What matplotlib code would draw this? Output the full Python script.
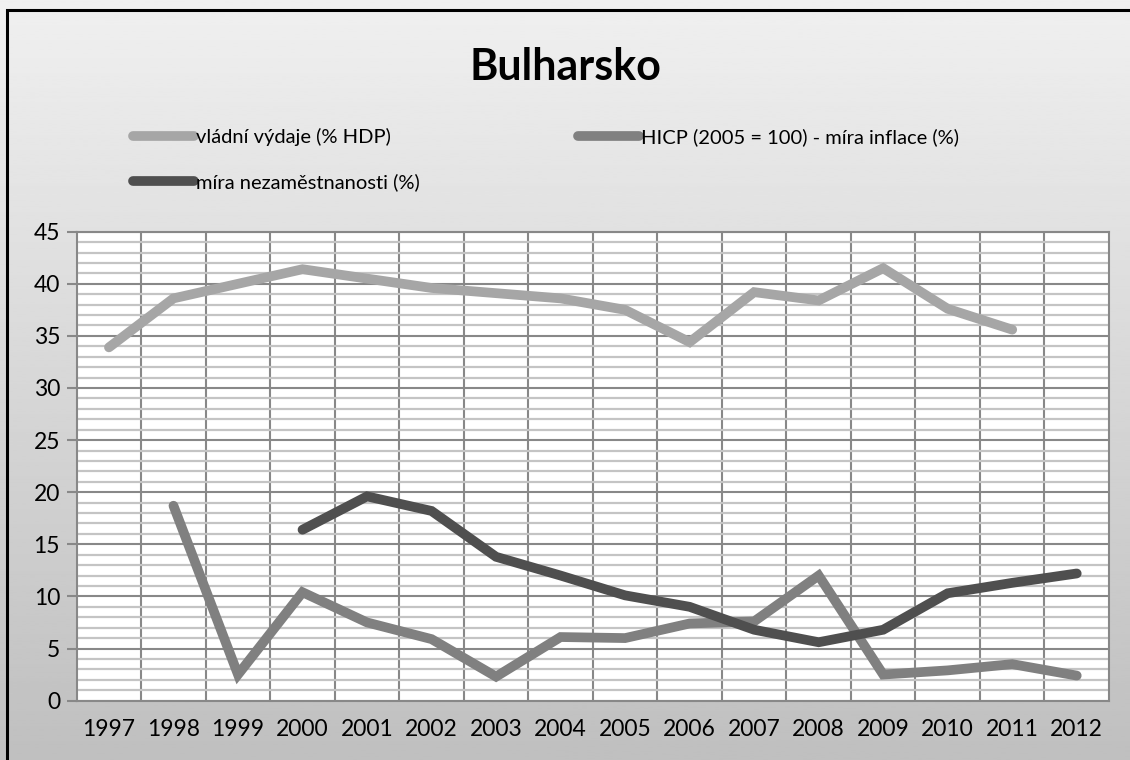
import matplotlib.pyplot as plt
import numpy as np
from matplotlib.ticker import MultipleLocator, FixedLocator
from matplotlib.patches import Rectangle

plt.rcParams['font.family'] = ['Lato', 'DejaVu Sans']

years = [str(y) for y in range(1997, 2013)]
nan = np.nan
vydaje = [33.9, 38.6, 40.0, 41.4, 40.5, 39.6, 39.1, 38.6, 37.5, 34.4,
          39.2, 38.4, 41.5, 37.6, 35.6, nan]
hicp = [nan, 18.7, 2.5, 10.4, 7.5, 5.9, 2.3, 6.1, 6.0, 7.4,
        7.6, 12.0, 2.5, 2.9, 3.5, 2.4]
nezam = [nan, nan, nan, 16.4, 19.6, 18.2, 13.8, 12.0, 10.1, 9.0,
         6.8, 5.6, 6.8, 10.3, 11.3, 12.2]

fig = plt.figure(figsize=(11.3, 7.6), dpi=100)

# gradient background + frame
bg = fig.add_axes([0, 0, 1, 1], zorder=-10)
grad = np.linspace(0.94, 0.75, 256).reshape(-1, 1)
bg.imshow(grad, cmap='gray', vmin=0, vmax=1, aspect='auto', extent=[0, 1, 0, 1])
bg.set_xlim(0, 1)
bg.set_ylim(0, 1)
bg.axis('off')
bg.add_patch(Rectangle((7 / 1130, -0.05), 1.1, (750 / 760) + 0.05, fill=False,
                       edgecolor='black', linewidth=2.2, transform=bg.transAxes))

ax = fig.add_axes([76.7 / 1130, 59.4 / 760, (1109 - 76.7) / 1130, (700.6 - 231.7) / 760])
ax.set_facecolor('white')

x = np.arange(len(years))
ax.plot(x, vydaje, color='#a6a6a6', lw=7, solid_capstyle='round', solid_joinstyle='miter',
        label='vládní výdaje (% HDP)', zorder=3)
ax.plot(x, hicp, color='#808080', lw=7, solid_capstyle='round', solid_joinstyle='miter',
        label='HICP (2005 = 100) - míra inflace (%)', zorder=3)
ax.plot(x, nezam, color='#4f4f4f', lw=7, solid_capstyle='round', solid_joinstyle='miter',
        label='míra nezaměstnanosti (%)', zorder=3)

ax.set_xlim(-0.5, len(years) - 0.5)
ax.set_ylim(0, 45)
ax.set_xticks(x)
ax.set_xticklabels(years)
ax.xaxis.set_minor_locator(FixedLocator(np.arange(0.5, len(years) - 0.5, 1)))
ax.yaxis.set_major_locator(MultipleLocator(5))
ax.yaxis.set_minor_locator(MultipleLocator(1))

ax.yaxis.grid(True, which='minor', color='#c4c4c4', lw=1.6, zorder=0)
ax.yaxis.grid(True, which='major', color='#888888', lw=1.5, zorder=1)
ax.xaxis.grid(True, which='minor', color='#888888', lw=1.5, zorder=1)
ax.set_axisbelow(True)

ax.tick_params(axis='x', which='both', length=0, labelsize=16.5, pad=13)
ax.tick_params(axis='y', which='major', length=7, width=1.5, color='#888888',
               labelsize=16.5, pad=5)
ax.tick_params(axis='y', which='minor', length=0)
for s in ax.spines.values():
    s.set_color('#888888')
    s.set_linewidth(1.5)

fig.text(0.5, 1 - 67 / 760, 'Bulharsko', ha='center', va='center',
         fontsize=31, fontweight='bold')

h, l = ax.get_legend_handles_labels()
order = [0, 2, 1]
fig.legend([h[i] for i in order], [l[i] for i in order], ncol=2, frameon=False,
           loc='upper left', bbox_to_anchor=(115 / 1130, 1 - 110 / 760),
           fontsize=14.5, handlelength=3.0, handletextpad=0.1,
           columnspacing=7.9, labelspacing=1.35)

plt.savefig('out.png', dpi=100)
